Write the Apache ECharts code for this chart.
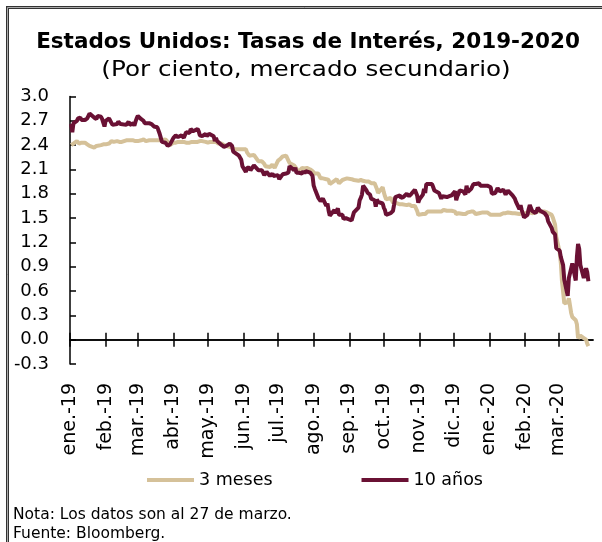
<!DOCTYPE html>
<html>
<head>
<meta charset="utf-8">
<script src="https://cdn.jsdelivr.net/npm/echarts@6/dist/echarts.min.js"></script>
<style>
  html, body { margin: 0; padding: 0; background: #fff; }
  #chart { width: 602px; height: 542px; }
</style>
</head>
<body>
<div id="chart"></div>
<script>
// ---- Data ----
const monthKeys = ['2019-01','2019-02','2019-03','2019-04','2019-05','2019-06','2019-07','2019-08','2019-09','2019-10','2019-11','2019-12','2020-01','2020-02','2020-03'];
const monthLabels = ['ene.-19','feb.-19','mar.-19','abr.-19','may.-19','jun.-19','jul.-19','ago.-19','sep.-19','oct.-19','nov.-19','dic.-19','ene.-20','feb.-20','mar.-20'];
const seriesNames = ['3 meses', '10 años'];
const tradingDays = [
  [2,3,4,7,8,9,10,11,14,15,16,17,18,22,23,24,25,28,29,30,31],
  [1,4,5,6,7,8,11,12,13,14,15,19,20,21,22,25,26,27,28],
  [1,4,5,6,7,8,11,12,13,14,15,18,19,20,21,22,25,26,27,28,29],
  [1,2,3,4,5,8,9,10,11,12,15,16,17,18,22,23,24,25,26,29,30],
  [1,2,3,6,7,8,9,10,13,14,15,16,17,20,21,22,23,24,28,29,30,31],
  [3,4,5,6,7,10,11,12,13,14,17,18,19,20,21,24,25,26,27,28],
  [1,2,3,5,8,9,10,11,12,15,16,17,18,19,22,23,24,25,26,29,30,31],
  [1,2,5,6,7,8,9,12,13,14,15,16,19,20,21,22,23,26,27,28,29,30],
  [3,4,5,6,9,10,11,12,13,16,17,18,19,20,23,24,25,26,27,30],
  [1,2,3,4,7,8,9,10,11,15,16,17,18,21,22,23,24,25,28,29,30,31],
  [1,4,5,6,7,8,12,13,14,15,18,19,20,21,22,25,26,27,29],
  [2,3,4,5,6,9,10,11,12,13,16,17,18,19,20,23,24,26,27,30,31],
  [2,3,6,7,8,9,10,13,14,15,16,17,21,22,23,24,27,28,29,30,31],
  [3,4,5,6,7,10,11,12,13,14,18,19,20,21,24,25,26,27,28],
  [2,3,4,5,6,9,10,11,12,13,16,17,18,19,20,23,24,25,26,27]
];
const bill3m = [
  [2.40,2.42,2.42,2.45,2.46,2.42,2.42,2.43,2.43,2.42,2.41,2.41,2.39,2.37,2.38,2.39,2.39,2.40,2.42,2.41,2.41],
  [2.41,2.42,2.43,2.45,2.44,2.44,2.45,2.45,2.44,2.45,2.44,2.46,2.46,2.46,2.46,2.46,2.46,2.45,2.45],
  [2.45,2.46,2.47,2.47,2.46,2.45,2.46,2.46,2.46,2.46,2.46,2.46,2.46,2.46,2.46,2.46,2.47,2.46,2.44,2.42,2.40],
  [2.43,2.43,2.43,2.44,2.44,2.44,2.44,2.44,2.43,2.43,2.43,2.44,2.44,2.43,2.44,2.44,2.45,2.45,2.45,2.44,2.43],
  [2.43,2.44,2.44,2.44,2.44,2.44,2.42,2.42,2.42,2.41,2.40,2.39,2.39,2.38,2.38,2.37,2.36,2.35,2.35,2.36,2.35,2.35],
  [2.35,2.31,2.30,2.27,2.28,2.28,2.27,2.24,2.22,2.20,2.20,2.19,2.17,2.14,2.13,2.13,2.13,2.16,2.14,2.12],
  [2.21,2.23,2.23,2.26,2.27,2.26,2.21,2.18,2.17,2.15,2.15,2.11,2.06,2.08,2.12,2.13,2.11,2.10,2.12,2.10,2.11,2.08],
  [2.08,2.05,2.05,2.05,1.99,1.99,1.99,1.98,1.99,1.97,1.92,1.93,1.96,1.94,1.98,1.98,1.93,1.97,1.98,1.98,1.97,1.99],
  [1.98,1.98,1.97,1.96,1.96,1.96,1.97,1.96,1.96,1.95,1.96,1.95,1.93,1.93,1.93,1.93,1.86,1.81,1.82,1.88],
  [1.82,1.77,1.73,1.71,1.75,1.72,1.69,1.69,1.69,1.67,1.66,1.67,1.66,1.66,1.65,1.67,1.67,1.65,1.65,1.62,1.59,1.54],
  [1.54,1.55,1.56,1.55,1.57,1.58,1.58,1.59,1.58,1.57,1.58,1.57,1.58,1.59,1.60,1.59,1.59,1.59,1.59],
  [1.58,1.55,1.56,1.56,1.55,1.55,1.55,1.55,1.56,1.57,1.58,1.59,1.58,1.57,1.55,1.56,1.56,1.57,1.57,1.57,1.55],
  [1.54,1.52,1.54,1.54,1.54,1.55,1.54,1.56,1.56,1.56,1.56,1.57,1.56,1.56,1.56,1.56,1.55,1.55,1.56,1.57,1.55],
  [1.57,1.57,1.57,1.57,1.56,1.57,1.58,1.59,1.59,1.58,1.58,1.58,1.57,1.57,1.54,1.51,1.49,1.42,1.27],
  [1.08,0.95,0.72,0.59,0.45,0.46,0.51,0.42,0.33,0.28,0.24,0.19,0.02,0.04,0.05,0.02,0.01,0.00,-0.05,-0.08]
];
const note10y = [
  [2.66,2.56,2.67,2.70,2.73,2.71,2.74,2.71,2.71,2.72,2.73,2.75,2.79,2.74,2.76,2.72,2.76,2.75,2.72,2.70,2.63],
  [2.70,2.73,2.70,2.70,2.65,2.63,2.66,2.69,2.71,2.66,2.67,2.65,2.65,2.69,2.65,2.67,2.64,2.69,2.73],
  [2.76,2.72,2.72,2.70,2.67,2.66,2.67,2.65,2.66,2.68,2.63,2.62,2.61,2.54,2.52,2.44,2.43,2.41,2.39,2.41,2.41],
  [2.49,2.48,2.52,2.51,2.50,2.52,2.50,2.49,2.51,2.56,2.55,2.60,2.59,2.57,2.60,2.57,2.52,2.54,2.51,2.54,2.51],
  [2.52,2.54,2.54,2.51,2.45,2.49,2.45,2.47,2.40,2.42,2.38,2.40,2.39,2.42,2.43,2.39,2.32,2.33,2.27,2.25,2.22,2.14],
  [2.07,2.12,2.12,2.12,2.09,2.15,2.14,2.12,2.10,2.09,2.09,2.06,2.03,2.01,2.07,2.02,2.00,2.05,2.02,2.00],
  [2.03,1.98,1.96,2.04,2.05,2.07,2.06,2.14,2.12,2.09,2.12,2.06,2.04,2.06,2.05,2.08,2.05,2.08,2.08,2.06,2.06,2.02],
  [1.90,1.86,1.75,1.73,1.71,1.72,1.74,1.65,1.68,1.59,1.53,1.55,1.60,1.56,1.59,1.62,1.54,1.54,1.49,1.47,1.50,1.50],
  [1.47,1.47,1.57,1.55,1.63,1.72,1.75,1.79,1.90,1.84,1.81,1.80,1.79,1.74,1.72,1.64,1.73,1.70,1.69,1.68],
  [1.63,1.60,1.54,1.53,1.56,1.54,1.59,1.67,1.76,1.78,1.75,1.76,1.76,1.80,1.78,1.77,1.77,1.80,1.85,1.84,1.78,1.69],
  [1.73,1.79,1.86,1.81,1.92,1.94,1.92,1.88,1.84,1.84,1.81,1.79,1.74,1.77,1.77,1.76,1.74,1.77,1.78],
  [1.83,1.72,1.77,1.80,1.84,1.83,1.84,1.79,1.90,1.82,1.86,1.89,1.92,1.92,1.92,1.93,1.90,1.90,1.88,1.90,1.92],
  [1.88,1.80,1.81,1.83,1.87,1.85,1.83,1.85,1.82,1.79,1.81,1.84,1.78,1.77,1.74,1.70,1.61,1.66,1.60,1.59,1.51],
  [1.54,1.61,1.66,1.65,1.59,1.56,1.59,1.63,1.62,1.59,1.56,1.57,1.52,1.46,1.38,1.33,1.33,1.30,1.13],
  [1.10,1.02,1.02,0.92,0.74,0.54,0.76,0.82,0.88,0.94,0.73,1.02,1.18,1.12,0.92,0.76,0.84,0.88,0.83,0.72]
];
const yTicks = { min: -0.3, max: 3.0, interval: 0.3 };
const titleText = 'Estados Unidos: Tasas de Interés, 2019-2020';
const subtitleText = '(Por ciento, mercado secundario)';
const noteLines = ['Nota: Los datos son al 27 de marzo.', 'Fuente: Bloomberg.'];

// ---- Build axis days (calendar) and series pairs ----
const FONT = '"DejaVu Sans", sans-serif';
function pad(n) { return (n < 10 ? '0' : '') + n; }
const axisDays = [];
for (let t = Date.UTC(2019, 0, 1); t <= Date.UTC(2020, 2, 31); t += 86400000) {
  const d = new Date(t);
  axisDays.push(d.getUTCFullYear() + '-' + pad(d.getUTCMonth() + 1) + '-' + pad(d.getUTCDate()));
}
function pairs(values) {
  const out = [];
  monthKeys.forEach((mk, i) => {
    tradingDays[i].forEach((day, j) => out.push([mk + '-' + pad(day), values[i][j]]));
  });
  return out;
}
const isMonthStart = (idx, val) => axisDays[idx].slice(8) === '01';
const labelFor = (val) => monthLabels[monthKeys.indexOf(val.slice(0, 7))];

const chart = echarts.init(document.getElementById('chart'), null, { renderer: 'canvas' });
const black = '#000';
chart.setOption({
  animation: false,
  backgroundColor: '#fff',
  textStyle: { fontFamily: FONT },
  color: ['#D5C199', '#6A1134'],
  grid: { left: 70, right: 9, top: 96.5, bottom: 178, containLabel: false },
  legend: {
    data: seriesNames,
    left: 142, top: 466,
    icon: 'rect', itemWidth: 47, itemHeight: 4, itemGap: 89,
    textStyle: { fontSize: 17.5, color: black, fontFamily: FONT }
  },
  xAxis: [
    {
      type: 'category', data: axisDays, boundaryGap: false, position: 'bottom',
      axisLine: { show: true, onZero: true, onZeroAxisIndex: 0, lineStyle: { color: black, width: 1.5 } },
      axisTick: { show: true, interval: isMonthStart, length: 7, lineStyle: { color: black, width: 1.5 } },
      axisLabel: { show: false }, splitLine: { show: false }
    },
    {
      type: 'category', data: axisDays, boundaryGap: false, position: 'bottom',
      axisLine: { show: true, onZero: true, onZeroAxisIndex: 0, lineStyle: { color: black, width: 1.5 } },
      axisTick: { show: true, inside: true, interval: isMonthStart, length: 7, lineStyle: { color: black, width: 1.5 } },
      axisLabel: { show: false }, splitLine: { show: false }
    },
    {
      type: 'category', data: axisDays, boundaryGap: false, position: 'bottom',
      axisLine: { show: false, onZero: false }, axisTick: { show: false },
      axisLabel: { show: true, interval: isMonthStart, rotate: 90, margin: 19, formatter: labelFor,
                   fontSize: 19, color: black, fontFamily: FONT },
      splitLine: { show: false }
    }
  ],
  yAxis: {
    type: 'value', min: yTicks.min, max: yTicks.max, interval: yTicks.interval,
    axisLine: { show: true, onZero: false, lineStyle: { color: black, width: 1.5 } },
    axisTick: { show: true, inside: true, length: 6, lineStyle: { color: black, width: 1.5 } },
    axisLabel: { formatter: v => v.toFixed(1), fontSize: 18, color: black, margin: 21, fontFamily: FONT },
    splitLine: { show: false }
  },
  series: [
    { name: seriesNames[0], type: 'line', xAxisIndex: 0, data: pairs(bill3m), showSymbol: false, symbol: 'none',
      lineStyle: { width: 4 }, z: 2 },
    { name: seriesNames[1], type: 'line', xAxisIndex: 0, data: pairs(note10y), showSymbol: false, symbol: 'none',
      lineStyle: { width: 4 }, z: 3 }
  ],
  graphic: [
    { type: 'polyline', shape: { points: [[7.5, 542], [7.5, 7.5], [602, 7.5]] }, style: { stroke: '#333', lineWidth: 3, fill: null }, silent: true },
    { type: 'polyline', shape: { points: [[7.5, 542], [7.5, 7.5], [602, 7.5]] }, style: { stroke: '#aaa', lineWidth: 1, fill: null }, silent: true },
    { type: 'text', x: 308, y: 42, style: { text: titleText, font: 'bold 21.5px ' + FONT, fill: black, align: 'center', verticalAlign: 'middle' } },
    { type: 'text', x: 306, y: 70, scaleX: 1.12, style: { text: subtitleText, font: '22px ' + FONT, fill: black, align: 'center', verticalAlign: 'middle' } },
    { type: 'text', x: 13, y: 515, style: { text: noteLines[0], font: '15.5px ' + FONT, fill: black, align: 'left', verticalAlign: 'middle' } },
    { type: 'text', x: 13, y: 534, style: { text: noteLines[1], font: '15.5px ' + FONT, fill: black, align: 'left', verticalAlign: 'middle' } }
  ]
});
</script>
</body>
</html>
